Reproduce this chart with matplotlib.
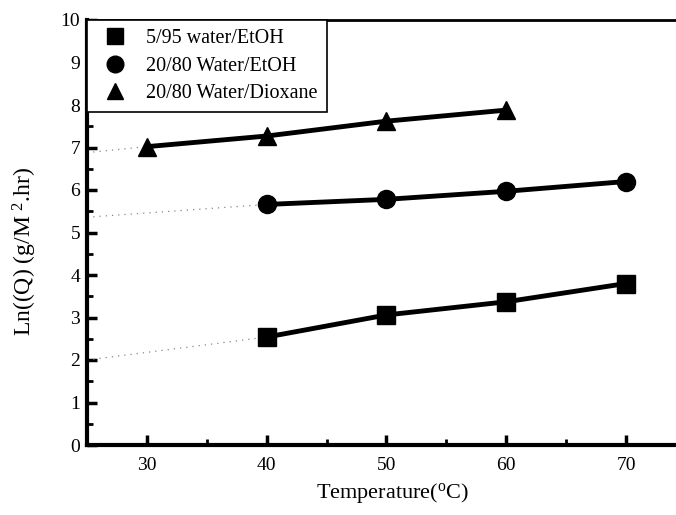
import numpy as np
import matplotlib
matplotlib.use("Agg")
import matplotlib.pyplot as plt
from matplotlib.ticker import MultipleLocator

plt.rcParams['font.family'] = ['Liberation Serif', 'DejaVu Serif']
plt.rcParams['mathtext.fontset'] = 'custom'
plt.rcParams['mathtext.rm'] = 'Liberation Serif'

# data
temp_a = [40, 50, 60, 70]
lnq_a = [2.54, 3.06, 3.37, 3.80]
temp_b = [40, 50, 60, 70]
lnq_b = [5.66, 5.78, 5.97, 6.20]
temp_c = [30, 40, 50, 60]
lnq_c = [7.02, 7.27, 7.62, 7.88]

# dotted extrapolations back to the y axis (x=25)
extrap_x = [25, 40]
extrap_a = [2.00, 2.54]
extrap_b = [5.36, 5.66]
extrap_c_x = [25, 30]
extrap_c = [6.88, 7.02]

labels = ['5/95 water/EtOH', '20/80 Water/EtOH', '20/80 Water/Dioxane']

fig = plt.figure(figsize=(6.76, 5.15), dpi=100)
ax = fig.add_axes([87/676, 1-445/515, 1-87/676, (445-20)/515])

dot = dict(color='#888888', lw=0.9, ls=(0, (1, 4)))
ax.plot(extrap_x, extrap_a, **dot)
ax.plot(extrap_x, extrap_b, **dot)
ax.plot(extrap_c_x, extrap_c, **dot)

ax.plot(temp_a, lnq_a, 'k-', marker='s', ms=12.5, lw=3.5, label=labels[0])
ax.plot(temp_b, lnq_b, 'k-', marker='o', ms=13, lw=3.5, label=labels[1])
ax.plot(temp_c, lnq_c, 'k-', marker='^', ms=13, lw=3.5, label=labels[2])

ax.set_xlim(25, 25 + (676-86)/12)
ax.set_ylim(0, 10)
ax.xaxis.set_major_locator(MultipleLocator(10))
ax.xaxis.set_minor_locator(MultipleLocator(5))
ax.yaxis.set_major_locator(MultipleLocator(1))
ax.yaxis.set_minor_locator(MultipleLocator(0.5))
ax.tick_params(which='major', direction='in', length=7, width=2.5, labelsize=14)
ax.tick_params(which='minor', direction='in', length=4, width=2)
ax.tick_params(axis='x', pad=9)
ax.tick_params(axis='y', pad=5)
ax.spines['right'].set_visible(False)
ax.spines['left'].set_linewidth(3)
ax.spines['bottom'].set_linewidth(3)
ax.spines['top'].set_linewidth(2)

ax.set_xlabel('Temperature($\\mathregular{^oC}$)', fontsize=16)
ax.xaxis.set_label_coords((392-87)/(676-87), -(498-445)/425, transform=ax.transAxes)
ax.xaxis.label.set_va('baseline')
ax.set_ylabel('Ln((Q) (g/M$\\mathregular{^{\\ 2}}$.hr)', fontsize=17)
ax.yaxis.set_label_coords(-(87-25)/(676-87), (445-252)/425, transform=ax.transAxes)
ax.yaxis.label.set_va('center')

leg = ax.legend(loc='upper left', bbox_to_anchor=(0, 1), fontsize=14.5,
                frameon=True, fancybox=False, edgecolor='black', framealpha=1,
                borderaxespad=0, handlelength=1.9, handletextpad=0.6,
                labelspacing=0.42, borderpad=0.45)
leg.get_frame().set_linewidth(1.2)
for h in leg.get_lines():
    h.set_linestyle('')
    h.set_markersize(12)

fig.savefig('out.png', dpi=100)
